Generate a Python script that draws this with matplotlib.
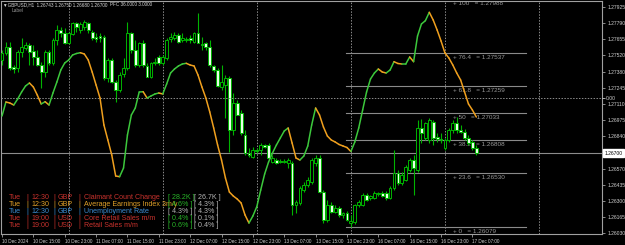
import matplotlib
matplotlib.use('Agg')
import matplotlib.pyplot as plt
from matplotlib.collections import LineCollection
import matplotlib.transforms as mtransforms
import numpy as np

# ---------------- data ----------------
opens = [1.27477,1.27536,1.27586,1.27419,1.27410,1.27544,1.27578,1.27603,1.27553,1.27502,
1.27436,1.27377,1.27544,1.27452,1.27645,1.27728,1.27703,1.27620,1.27695,1.27787,
1.27728,1.27753,1.27787,1.27711,1.27670,1.27678,1.27670,1.27327,1.27477,1.27293,
1.27227,1.27360,1.27410,1.27703,1.27561,1.27436,1.27620,1.27427,1.27335,1.27452,
1.27502,1.27452,1.27494,1.27653,1.27661,1.27686,1.27645,1.27645,1.27661,1.27628,
1.27703,1.27611,1.27620,1.27586,1.27427,1.27394,1.27252,1.27268,1.27327,1.26892,
1.27118,1.27034,1.26850,1.26700,1.26667,1.26725,1.26725,1.26767,1.26767,1.26625,
1.26642,1.26633,1.26625,1.26616,1.26616,1.26265,1.26282,1.26391,1.26432,1.26458,
1.26616,1.26658,1.26374,1.26140,1.26265,1.26207,1.26240,1.26182,1.26198,1.26115,
1.26123,1.26265,1.26265,1.26349,1.26324,1.26324,1.26357,1.26366,1.26366,1.26324,
1.26407,1.26533,1.26449,1.26474,1.26558,1.26642,1.26558,1.26909,1.26825,1.26809,
1.26959,1.26834,1.26817,1.26742,1.26809,1.26892,1.26951,1.26892,1.26876,1.26825,
1.26792,1.26742]
highs = [1.27561,1.27628,1.27628,1.27436,1.27561,1.27661,1.27628,1.27620,1.27603,1.27561,
1.27461,1.27561,1.27561,1.27661,1.27770,1.27753,1.27745,1.27711,1.27795,1.27795,
1.27795,1.27812,1.27795,1.27728,1.27703,1.27703,1.27686,1.27494,1.27494,1.27310,
1.27377,1.27494,1.27795,1.27711,1.27645,1.27628,1.27645,1.27452,1.27461,1.27494,
1.27519,1.27519,1.27661,1.27703,1.27711,1.27703,1.27703,1.27670,1.27686,1.27711,
1.27870,1.27670,1.27628,1.27645,1.27436,1.27410,1.27436,1.27352,1.27343,1.27202,
1.27143,1.27059,1.26892,1.26742,1.26750,1.26742,1.26784,1.26775,1.26784,1.26683,
1.26658,1.26650,1.26650,1.26658,1.26633,1.26307,1.26424,1.26457,1.26499,1.26658,
1.26683,1.26683,1.26391,1.26307,1.26290,1.26265,1.26257,1.26207,1.26215,1.26182,
1.26274,1.26307,1.26366,1.26366,1.26349,1.26382,1.26374,1.26382,1.26382,1.26424,
1.26725,1.26558,1.26541,1.26600,1.26658,1.26683,1.26976,1.26984,1.26959,1.26993,
1.26976,1.26867,1.26867,1.26825,1.26909,1.26976,1.27001,1.26934,1.26901,1.26850,
1.26809,1.26767]
lows = [1.27436,1.27519,1.27394,1.27369,1.27377,1.27502,1.27561,1.27436,1.27436,1.27427,
1.27243,1.27335,1.27436,1.27436,1.27603,1.27670,1.27611,1.27615,1.27686,1.27711,
1.27703,1.27728,1.27703,1.27645,1.27628,1.27628,1.27310,1.27293,1.27285,1.27126,
1.27210,1.27335,1.27394,1.27536,1.27419,1.27419,1.27419,1.27335,1.27327,1.27436,
1.27436,1.27436,1.27477,1.27628,1.27645,1.27620,1.27628,1.27628,1.27620,1.27620,
1.27620,1.27561,1.27561,1.27419,1.27377,1.27252,1.27227,1.26993,1.26708,1.26850,
1.27018,1.26850,1.26683,1.26667,1.26658,1.26700,1.26683,1.26742,1.26642,1.26616,
1.26608,1.26616,1.26616,1.26575,1.26182,1.26198,1.26265,1.26374,1.26416,1.26441,
1.26591,1.26366,1.26115,1.26123,1.26198,1.26198,1.26165,1.26157,1.26131,1.26079,
1.26106,1.26248,1.26257,1.26299,1.26307,1.26315,1.26340,1.26332,1.26307,1.26315,
1.26391,1.26432,1.26432,1.26466,1.26541,1.26349,1.26541,1.26784,1.26809,1.26784,
1.26767,1.26792,1.26784,1.26725,1.26792,1.26867,1.26867,1.26867,1.26809,1.26767,
1.26725,1.26683]
closes = [1.27536,1.27586,1.27410,1.27402,1.27544,1.27586,1.27603,1.27544,1.27502,1.27436,
1.27377,1.27544,1.27452,1.27645,1.27728,1.27703,1.27620,1.27703,1.27787,1.27753,
1.27778,1.27795,1.27728,1.27661,1.27657,1.27661,1.27327,1.27477,1.27293,1.27227,
1.27352,1.27410,1.27703,1.27561,1.27436,1.27620,1.27436,1.27335,1.27452,1.27461,
1.27452,1.27502,1.27645,1.27670,1.27686,1.27628,1.27661,1.27653,1.27645,1.27703,
1.27620,1.27603,1.27586,1.27436,1.27394,1.27260,1.27293,1.27327,1.26892,1.27118,
1.27018,1.26867,1.26700,1.26683,1.26725,1.26717,1.26767,1.26750,1.26658,1.26658,
1.26616,1.26625,1.26633,1.26642,1.26265,1.26290,1.26407,1.26432,1.26475,1.26642,
1.26658,1.26374,1.26140,1.26265,1.26207,1.26240,1.26182,1.26198,1.26140,1.26131,
1.26265,1.26290,1.26349,1.26307,1.26340,1.26366,1.26366,1.26340,1.26324,1.26407,
1.26533,1.26449,1.26516,1.26583,1.26642,1.26575,1.26909,1.26867,1.26951,1.26976,
1.26825,1.26817,1.26809,1.26809,1.26892,1.26951,1.26892,1.26876,1.26825,1.26784,
1.26742,1.26700]

pfc = [-1.77,-0.37,-0.47,-0.67,-0.07,0.63,1.23,1.53,1.13,0.33,
-0.57,-0.34,-0.67,0.53,1.63,2.83,3.53,3.83,4.33,4.48,
4.56,4.43,3.83,2.63,1.33,0.03,-2.67,-4.17,-5.67,-7.77,
-7.84,-6.97,-3.67,-1.67,-0.97,0.63,0.66,0.03,0.23,0.43,
0.53,0.43,1.43,2.53,2.93,3.23,3.43,3.50,3.33,3.23,
2.33,1.13,0.03,-1.37,-2.97,-4.67,-6.17,-7.97,-9.37,-9.77,
-10.07,-10.47,-11.67,-12.47,-11.77,-10.84,-9.17,-7.57,-6.37,-5.47,
-4.67,-3.97,-3.27,-2.97,-4.47,-5.97,-6.17,-5.77,-4.77,-2.67,
-0.97,-1.67,-2.87,-3.77,-4.17,-4.37,-4.62,-4.77,-4.92,-5.32,
-4.37,-2.97,-1.17,0.63,1.93,2.53,2.93,2.63,2.53,2.83,
3.66,3.48,3.43,3.43,4.13,3.66,6.23,7.43,7.76,8.60,
7.83,6.83,5.73,4.53,4.03,3.33,2.53,1.83,0.63,-0.57,
-1.17,-1.87]

time_labels = ["10 Dec 2024", "10 Dec 15:00", "10 Dec 23:00", "11 Dec 07:00", "11 Dec 15:00",
               "11 Dec 23:00", "12 Dec 07:00", "12 Dec 15:00", "12 Dec 23:00", "13 Dec 07:00",
               "13 Dec 15:00", "13 Dec 23:00", "16 Dec 07:00", "16 Dec 15:00", "16 Dec 23:00",
               "17 Dec 07:00"]
time_label_bars = [0, 8, 16, 24, 32, 40, 48, 56, 64, 72, 80, 88, 96, 104, 112, 120]
day_start_bars = [17, 41, 65, 89, 113, 137]
price_ticks = [1.26030, 1.26165, 1.26300, 1.26435, 1.26570, 1.26840, 1.26975, 1.27110,
               1.27245, 1.27380, 1.27520, 1.27655, 1.27790, 1.27925]
bid_price = 1.26700

fib_low = 1.26079
fib_high = 1.27988
fib_levels = [0, 23.6, 38.2, 50, 61.8, 76.4, 100]
fib_start_bar, fib_end_bar, fib_text_bar = 87.8, 133.7, 115

header = "\u25bcGBPUSD,H1  1.26743 1.26750 1.26680 1.26700"
header2 = "PFC 36.0000 3.0000"

ev_day = ["Tue", "Tue", "Tue", "Tue", "Tue"]
ev_time = ["12:30", "12:30", "12:30", "19:00", "19:00"]
ev_cur = ["GBP", "GBP", "GBP", "USD", "USD"]
ev_name = ["Claimant Count Change", "Average Earnings Index 3m/y", "Unemployment Rate",
           "Core Retail Sales m/m", "Retail Sales m/m"]
ev_forecast = ["28.2K", "4.6%", "4.3%", "0.4%", "0.6%"]
ev_previous = ["26.7K", "4.3%", "4.3%", "0.1%", "0.4%"]
ev_color = ["#c8322d", "#e0a028", "#3c8cd2", "#c8322d", "#c8322d"]
ev_fc_color = ["#28b428", "#28b428", "#b4b4b4", "#28b428", "#28b428"]

# ---------------- figure ----------------
W, H = 625, 245
fig = plt.figure(figsize=(W / 100, H / 100), dpi=100, facecolor='black')
ax = fig.add_axes([1 / W, (H - 233.5) / H, 601 / W, 232.5 / H])
ax.set_facecolor('black')
ax.set_xlim(-0.255, 153.06)
ax.set_ylim(1.26027, 1.27971)

axis_col = '#a0a0a0'
for s in ax.spines.values():
    s.set_color(axis_col)
    s.set_linewidth(0.8)

x = np.arange(len(opens))
o = np.array(opens); c = np.array(closes)
hi = np.array(highs); lo = np.array(lows)

# grid / separators
for b in day_start_bars:
    ax.axvline(b, color='#8c8c8c', lw=0.7, ls=(0, (1.5, 1.5)), zorder=1)
ax.axhline(bid_price, color='#8c8c8c', lw=0.8, zorder=1)

# fibonacci
for lv in fib_levels:
    p = fib_low + (fib_high - fib_low) * lv / 100.0
    ax.plot([fib_start_bar, fib_end_bar], [p, p], color='#8a8a8a', lw=0.8, zorder=1.5)
    ax.annotate(f"+ {lv:g}   = {p:.5f}", (fib_text_bar, p), xytext=(0, -1.2),
                textcoords='offset points', ha='left', va='top', fontsize=4.6,
                color='#9a9a9a', family='Liberation Sans', annotation_clip=False, zorder=2)

# candles
green = '#00b400'
ax.vlines(x, lo, hi, color=green, lw=0.8, zorder=3)
bull = c >= o
bottoms = np.minimum(o, c)
heights = np.maximum(np.abs(c - o), 0.000015)
ax.bar(x[bull], heights[bull], bottom=bottoms[bull], width=0.72, color='black',
       edgecolor=green, linewidth=0.7, zorder=4)
ax.bar(x[~bull], heights[~bull], bottom=bottoms[~bull], width=0.72, color='#e8ffe8',
       edgecolor=green, linewidth=0.7, zorder=4)

# oscillator on its own scale
ax2 = ax.twinx()
ax2.set_ylim(-13.52, 9.73)
ax2.axhline(0, color='#8c8c8c', lw=0.7, ls=(0, (1.5, 1.5)), zorder=1)
v = np.array(pfc)
segs = [[(x[i], v[i]), (x[i + 1], v[i + 1])] for i in range(len(v) - 1)]
cols = ['#3cc83c' if v[i + 1] >= v[i] else '#f0a01e' for i in range(len(v) - 1)]
ax2.add_collection(LineCollection(segs, colors=cols, linewidths=1.1, zorder=5,
                                  capstyle='round', joinstyle='round'))
ax2.set_yticks([0])
ax2.set_yticklabels(["0.00"])
ax2.tick_params(axis='y', colors='#d0d0d0', labelsize=3.6, length=2, width=0.6, pad=1)
for s in ax2.spines.values():
    s.set_visible(False)

# axes ticks
ax.yaxis.tick_right()
ax.set_yticks(price_ticks)
ax.set_yticklabels([f"{p:.5f}" for p in price_ticks])
ax.tick_params(axis='y', colors=axis_col, labelcolor='#d0d0d0', labelsize=3.6,
               length=2.5, width=0.6, pad=1.5)
ax.set_xticks(time_label_bars)
ax.set_xticklabels(time_labels)
for lab in ax.get_xticklabels():
    lab.set_horizontalalignment('left')
ax.tick_params(axis='x', colors=axis_col, labelcolor='#d0d0d0', labelsize=3.3,
               length=2.5, width=0.6, pad=1.2)
for lab in ax.get_xticklabels() + ax.get_yticklabels() + ax2.get_yticklabels():
    lab.set_family('Liberation Sans')

# bid label
trans = mtransforms.blended_transform_factory(ax.transAxes, ax.transData)
ax.text(1.004, bid_price, f"{bid_price:.5f}", transform=trans, ha='left', va='center',
        fontsize=3.6, color='black', family='Liberation Sans', zorder=10,
        bbox=dict(boxstyle='square,pad=0.25', facecolor='white', edgecolor='white'))

# header
fig.text(3 / W, 1 - 5 / H, header, fontsize=3.3, color='#d8d8d8', ha='left', va='center',
         family=['Liberation Sans', 'DejaVu Sans'])
fig.text(110 / W, 1 - 5 / H, header2, fontsize=3.3, color='#d8d8d8', ha='left', va='center',
         family='Liberation Sans')
fig.text(12 / W, 1 - 10.5 / H, "Label", fontsize=3.5, color='#909090', ha='left', va='center',
         family='Liberation Sans')

# events table
row_y = [197, 204.2, 211.3, 218.5, 225.7]
for k in range(len(ev_name)):
    yy = 1 - row_y[k] / H
    col = ev_color[k]
    kw = dict(fontsize=5.1, va='center', ha='left', family='Liberation Sans')
    fig.text(9.3 / W, yy, ev_day[k], color=col, **kw)
    fig.text(26 / W, yy, "|", color=col, **kw)
    fig.text(31 / W, yy, ev_time[k], color=col, **kw)
    fig.text(53 / W, yy, "|", color=col, **kw)
    fig.text(58 / W, yy, ev_cur[k], color=col, **kw)
    fig.text(78 / W, yy, "|", color=col, **kw)
    fig.text(84 / W, yy, ev_name[k], color=col, **kw)
    fig.text(168 / W, yy, f"[ {ev_forecast[k]} ]", color=ev_fc_color[k], **kw)
    fig.text(194 / W, yy, f"[ {ev_previous[k]} ]", color='#b4b4b4', **kw)

fig.savefig('out.png', dpi=100, facecolor='black')
